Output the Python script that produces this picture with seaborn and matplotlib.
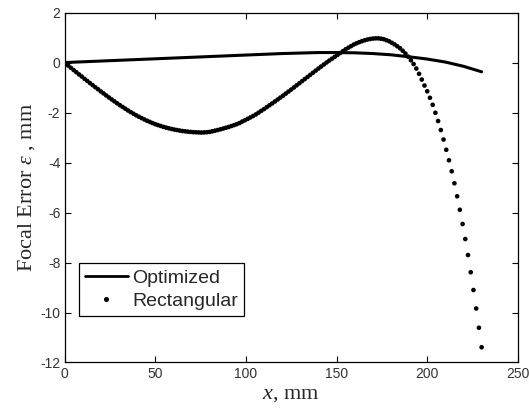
import matplotlib
matplotlib.use("Agg")
import matplotlib.pyplot as plt
import seaborn as sns
import numpy as np
from matplotlib.lines import Line2D

# Optimized aperture focal error (mm) vs x (mm)
x_opt = [0, 10, 20, 30, 40, 50, 60, 70, 80, 90, 100, 110, 120, 130, 140, 150,
         160, 170, 180, 190, 200, 210, 220, 230]
y_opt = [0.0, 0.03, 0.06, 0.09, 0.12, 0.15, 0.18, 0.21, 0.24, 0.27, 0.30, 0.33,
         0.36, 0.38, 0.40, 0.40, 0.39, 0.36, 0.31, 0.23, 0.14, 0.02, -0.15, -0.37]

# Rectangular aperture focal error (mm) vs x (mm)
x_rect = [0.5, 2.0, 3.5, 5.0, 6.5, 8.0, 9.5, 11.0, 12.5, 14.0, 15.5, 17.0, 18.5, 20.0,
          21.5, 23.0, 24.5, 26.0, 27.5, 29.0, 30.5, 32.0, 33.5, 35.0, 36.5, 38.0, 39.5,
          41.0, 42.5, 44.0, 45.5, 47.0, 48.5, 50.0, 51.5, 53.0, 54.5, 56.0, 57.5, 59.0,
          60.5, 62.0, 63.5, 65.0, 66.5, 68.0, 69.5, 71.0, 72.5, 74.0, 75.5, 77.0, 78.5,
          80.0, 81.5, 83.0, 84.5, 86.0, 87.5, 89.0, 90.5, 92.0, 93.5, 95.0, 96.5, 98.0,
          99.5, 101.0, 102.5, 104.0, 105.5, 107.0, 108.5, 110.0, 111.5, 113.0, 114.5,
          116.0, 117.5, 119.0, 120.5, 122.0, 123.5, 125.0, 126.5, 128.0, 129.5, 131.0,
          132.5, 134.0, 135.5, 137.0, 138.5, 140.0, 141.5, 143.0, 144.5, 146.0, 147.5,
          149.0, 150.5, 152.0, 153.5, 155.0, 156.5, 158.0, 159.5, 161.0, 162.5, 164.0,
          165.5, 167.0, 168.5, 170.0, 171.5, 173.0, 174.5, 176.0, 177.5, 179.0, 180.5,
          182.0, 183.5, 185.0, 186.5, 188.0, 189.5, 191.0, 192.5, 194.0, 195.5, 197.0,
          198.5, 200.0, 201.5, 203.0, 204.5, 206.0, 207.5, 209.0, 210.5, 212.0, 213.5,
          215.0, 216.5, 218.0, 219.5, 221.0, 222.5, 224.0, 225.5, 227.0, 228.5, 230.0]
y_rect = [-0.03, -0.12, -0.21, -0.30, -0.385, -0.475, -0.56, -0.65, -0.735, -0.82,
          -0.905, -0.99, -1.07, -1.155, -1.235, -1.317, -1.397, -1.476, -1.553, -1.63,
          -1.705, -1.775, -1.847, -1.918, -1.983, -2.047, -2.11, -2.168, -2.222, -2.277,
          -2.329, -2.374, -2.42, -2.465, -2.50, -2.537, -2.573, -2.603, -2.63, -2.657,
          -2.681, -2.70, -2.72, -2.739, -2.752, -2.764, -2.776, -2.784, -2.79, -2.796,
          -2.80, -2.795, -2.786, -2.775, -2.75, -2.725, -2.70, -2.67, -2.64, -2.61,
          -2.578, -2.54, -2.503, -2.465, -2.42, -2.36, -2.308, -2.252, -2.195, -2.138,
          -2.076, -2.004, -1.932, -1.86, -1.785, -1.71, -1.635, -1.558, -1.48, -1.402,
          -1.323, -1.242, -1.161, -1.08, -0.996, -0.912, -0.828, -0.744, -0.66, -0.576,
          -0.492, -0.408, -0.324, -0.24, -0.159, -0.078, 0.003, 0.08, 0.155, 0.23,
          0.305, 0.38, 0.455, 0.53, 0.593, 0.656, 0.72, 0.77, 0.815, 0.856,
          0.89, 0.92, 0.942, 0.96, 0.968, 0.968, 0.955, 0.935, 0.895, 0.85,
          0.79, 0.725, 0.65, 0.57, 0.47, 0.36, 0.235, 0.09, -0.06, -0.24,
          -0.45, -0.68, -0.92, -1.15, -1.41, -1.69, -2.01, -2.34, -2.70, -3.08,
          -3.49, -3.91, -4.35, -4.83, -5.35, -5.89, -6.46, -7.06, -7.70, -8.39,
          -9.10, -9.84, -10.61, -11.39]

x_ticks = [0, 50, 100, 150, 200, 250]
y_ticks = [2, 0, -2, -4, -6, -8, -10, -12]

sns.set_style("ticks")
plt.rcParams['font.family'] = ['Liberation Sans', 'DejaVu Sans']
plt.rcParams['mathtext.fontset'] = 'custom'
plt.rcParams['mathtext.it'] = 'Liberation Serif:italic'
plt.rcParams['mathtext.rm'] = 'Liberation Serif'

fig = plt.figure(figsize=(5.29, 4.09), dpi=100)
ax = fig.add_axes([0.122, 0.1137, 0.857, 0.8556])

sns.lineplot(x=x_opt, y=y_opt, ax=ax, color='black', linewidth=2.2, zorder=3)
sns.scatterplot(x=x_rect, y=y_rect, ax=ax, color='black', marker='o', s=11,
                edgecolor='none', linewidth=0, zorder=4)

ax.set_xlim(0, 250)
ax.set_ylim(-12, 2)
ax.set_xticks(x_ticks)
ax.set_yticks(y_ticks)
ax.set_xticklabels([str(t) for t in x_ticks])
ax.set_yticklabels([str(t) for t in y_ticks])
ax.tick_params(direction='in', length=4, width=0.8, top=True, right=True,
               labelsize=10, colors='black', labelcolor='#333333', pad=3)
for sp in ax.spines.values():
    sp.set_visible(True)
    sp.set_linewidth(0.9)
    sp.set_color('black')

ax.set_xlabel(r'$x$, mm', family='Liberation Serif', fontsize=16, labelpad=3)
ax.set_ylabel(r'Focal Error $\varepsilon$ , mm', family='Liberation Serif', fontsize=16,
              labelpad=2)

handles = [Line2D([0], [0], color='black', lw=2),
           Line2D([0], [0], color='black', marker='o', markersize=2.6, lw=0)]
leg = ax.legend(handles, ['Optimized', 'Rectangular'], loc='lower left',
                bbox_to_anchor=(0.032, 0.133), borderaxespad=0, frameon=True,
                fancybox=False, edgecolor='black', framealpha=1, fontsize=14,
                handlelength=2.2, handletextpad=0.25, borderpad=0.3, labelspacing=0.3)
leg.get_frame().set_linewidth(0.9)

fig.savefig('out.png', dpi=100)
